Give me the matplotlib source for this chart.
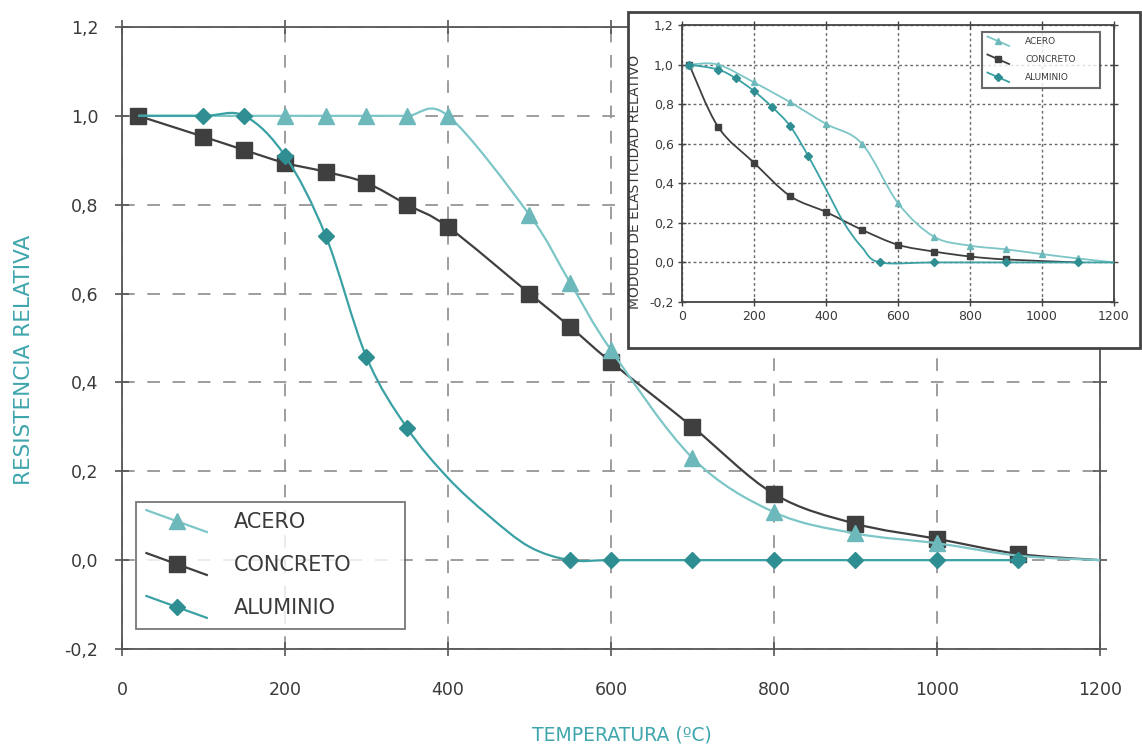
import numpy as np
import matplotlib
matplotlib.use("Agg")
import matplotlib.pyplot as plt
from matplotlib.path import Path
from matplotlib.patches import PathPatch, Rectangle
from matplotlib.lines import Line2D
from matplotlib.legend_handler import HandlerBase

# main chart: relative strength vs temperature
temp_acero = [20, 100, 150, 200, 250, 300, 350, 400, 500, 550, 600, 700, 800, 900, 1000, 1100, 1200]
res_acero = [1.0, 1.0, 1.0, 1.0, 1.0, 1.0, 1.0, 1.0, 0.777, 0.624, 0.473, 0.23, 0.108, 0.06, 0.038, 0.01, 0.0]
acero_sin_marca = [20, 100, 150, 1100, 1200]

temp_concreto = [20, 100, 150, 200, 250, 300, 350, 400, 500, 550, 600, 700, 800, 900, 1000, 1100, 1200]
res_concreto = [1.0, 0.953, 0.923, 0.894, 0.874, 0.849, 0.80, 0.75, 0.60, 0.525, 0.446, 0.30, 0.149, 0.082, 0.048, 0.014, 0.0]
concreto_sin_marca = [1200]

temp_aluminio = [20, 100, 150, 200, 250, 300, 350, 400, 450, 500, 550, 600, 700, 800, 900, 1000, 1100]
res_aluminio = [1.0, 1.0, 1.0, 0.91, 0.73, 0.457, 0.297, 0.185, 0.10, 0.03, 0.0, 0.0, 0.0, 0.0, 0.0, 0.0, 0.0]
aluminio_sin_marca = [20, 400, 450, 500]

# inset: relative elastic modulus
in_temp_acero = [20, 100, 200, 300, 400, 500, 600, 700, 800, 900, 1000, 1100, 1200]
in_mod_acero = [1.0, 1.0, 0.91, 0.81, 0.70, 0.60, 0.30, 0.13, 0.085, 0.066, 0.042, 0.02, 0.0]
in_acero_sin_marca = [1200]

in_temp_concreto = [20, 100, 200, 300, 400, 500, 600, 700, 800, 900, 1100]
in_mod_concreto = [1.0, 0.686, 0.504, 0.336, 0.255, 0.165, 0.089, 0.055, 0.03, 0.015, 0.0]
in_concreto_sin_marca = [1100]

in_temp_aluminio = [20, 100, 150, 200, 250, 300, 350, 400, 450, 500, 550, 700, 900, 1100, 1200]
in_mod_aluminio = [1.0, 0.975, 0.93, 0.866, 0.786, 0.69, 0.54, 0.37, 0.20, 0.076, 0.0, 0.0, 0.0, 0.0, 0.0]
in_aluminio_sin_marca = [400, 450, 500, 1200]

x_ticks = [0, 200, 400, 600, 800, 1000, 1200]
y_ticks = [-0.2, 0.0, 0.2, 0.4, 0.6, 0.8, 1.0, 1.2]
y_tick_labels = ["-0,2", "0,0", "0,2", "0,4", "0,6", "0,8", "1,0", "1,2"]

nombres = ["ACERO", "CONCRETO", "ALUMINIO"]

C_ACERO = "#6cb8ba"
C_ACERO_LINE = "#7cc6c7"
C_CONC = "#3f3f3f"
C_ALU = "#2e8e92"
C_ALU_LINE = "#3aa1a4"
C_TEAL_LABEL = "#3fa6ad"
C_TEXT = "#3a3a3a"


def smooth_path(x, y):
    # smoothed line through the points (bezier, like a spreadsheet "smooth line")
    p = np.column_stack([x, y]).astype(float)
    ext = np.vstack([p[0], p, p[-1]])
    verts = [p[0]]
    codes = [Path.MOVETO]
    for i in range(len(p) - 1):
        c1 = ext[i + 1] + (ext[i + 2] - ext[i]) / 6
        c2 = ext[i + 2] - (ext[i + 3] - ext[i + 1]) / 6
        verts += [c1, c2, ext[i + 2]]
        codes += [Path.CURVE4] * 3
    return Path(verts, codes)


def draw_series(ax, x, y, unmarked, line_color, marker, mcolor, ms, lw, z):
    ax.add_patch(PathPatch(smooth_path(x, y), facecolor="none", edgecolor=line_color,
                           lw=lw, zorder=z))
    x = np.asarray(x)
    y = np.asarray(y)
    keep = ~np.isin(x, unmarked)
    ax.plot(x[keep], y[keep], linestyle="none", marker=marker, ms=ms,
            markerfacecolor=mcolor, markeredgecolor=mcolor, zorder=z + 0.5)
    return Line2D([], [], color=line_color, lw=lw, marker=marker, ms=ms,
                  markerfacecolor=mcolor, markeredgecolor=mcolor)


class SlantHandler(HandlerBase):
    # legend sample drawn as a slanted line with the marker in the middle
    def create_artists(self, legend, orig_handle, xdescent, ydescent, width,
                       height, fontsize, trans):
        x0 = -xdescent
        x1 = x0 + width
        yc = -ydescent + height / 2
        dy = height * 0.75
        line = Line2D([x0, x1], [yc + dy, yc - dy], color=orig_handle.get_color(),
                      lw=orig_handle.get_linewidth())
        mk = Line2D([(x0 + x1) / 2], [yc], linestyle="none",
                    marker=orig_handle.get_marker(), ms=orig_handle.get_markersize(),
                    markerfacecolor=orig_handle.get_markerfacecolor(),
                    markeredgecolor=orig_handle.get_markeredgecolor())
        line.set_transform(trans)
        mk.set_transform(trans)
        return [line, mk]


plt.rcParams["font.family"] = ["DejaVu Sans"]

fig = plt.figure(figsize=(11.42, 7.49), dpi=100)

# ---- main axes ----
ax = fig.add_axes([0.1068, 0.1335, 0.8564, 0.8305])
ax.set_zorder(0)
h_conc = draw_series(ax, temp_concreto, res_concreto, concreto_sin_marca,
                     C_CONC, "s", C_CONC, 11, 1.6, 2)
h_acero = draw_series(ax, temp_acero, res_acero, acero_sin_marca,
                      C_ACERO_LINE, "^", C_ACERO, 11, 1.6, 3)
h_alu = draw_series(ax, temp_aluminio, res_aluminio, aluminio_sin_marca,
                    C_ALU_LINE, "D", C_ALU, 8, 1.6, 4)

ax.set_xlim(0, 1200)
ax.set_ylim(-0.2, 1.2)
ax.set_xticks(x_ticks)
ax.set_yticks(y_ticks)
ax.set_yticklabels(y_tick_labels)
ax.set_axisbelow(True)
ax.grid(True, linestyle=(0, (7, 7)), color="#959595", lw=1.3)
for s in ax.spines.values():
    s.set_color("#555555")
    s.set_linewidth(1.3)
ax.tick_params(direction="inout", length=10, width=1.2, color="#555555",
               labelcolor=C_TEXT, labelsize=12.5, top=True, right=True)
ax.tick_params(axis="x", pad=18)
ax.tick_params(axis="y", pad=12)
ax.set_xlabel("TEMPERATURA (ºC)", color=C_TEAL_LABEL, fontsize=13.5)
ax.set_ylabel("RESISTENCIA RELATIVA", color=C_TEAL_LABEL, fontsize=15.5)
ax.xaxis.set_label_coords(0.511, -0.123)
ax.yaxis.set_label_coords(-0.09, 0.465)

leg = ax.legend([h_acero, h_conc, h_alu], nombres, loc="upper left",
                bbox_to_anchor=(0.1191, 0.1589, 0.2356, 0.1709),
                bbox_transform=fig.transFigure, mode="expand",
                handler_map={Line2D: SlantHandler()}, fontsize=15,
                frameon=True, fancybox=False, handlelength=2.9,
                handletextpad=1.3, labelspacing=1.1, borderpad=0.5,
                borderaxespad=0, labelcolor=C_TEXT)
leg.get_frame().set_edgecolor("#555555")
leg.get_frame().set_linewidth(1.3)
leg.set_zorder(10)

# ---- inset frame ----
frame = Rectangle((0.5499, 0.5354), 0.4483, 0.4486, transform=fig.transFigure,
                  facecolor="white", edgecolor="#444444", lw=2.0, zorder=1)
fig.patches.append(frame)

# ---- inset axes ----
ins = fig.add_axes([0.5972, 0.5968, 0.3783, 0.3698])
ins.set_zorder(2)
i_conc = draw_series(ins, in_temp_concreto, in_mod_concreto, in_concreto_sin_marca,
                     C_CONC, "s", C_CONC, 4.5, 1.3, 2)
i_acero = draw_series(ins, in_temp_acero, in_mod_acero, in_acero_sin_marca,
                      C_ACERO_LINE, "^", C_ACERO, 5, 1.3, 3)
i_alu = draw_series(ins, in_temp_aluminio, in_mod_aluminio, in_aluminio_sin_marca,
                    C_ALU_LINE, "D", C_ALU, 4, 1.3, 4)
ins.set_xlim(0, 1200)
ins.set_ylim(-0.2, 1.2)
ins.set_xticks(x_ticks)
ins.set_yticks(y_ticks)
ins.set_yticklabels(y_tick_labels)
ins.set_axisbelow(True)
ins.grid(True, linestyle=(0, (2, 2)), color="#6a6a6a", lw=1.0)
for s in ins.spines.values():
    s.set_color("#444444")
    s.set_linewidth(1.3)
ins.tick_params(direction="inout", length=6, width=1.0, color="#444444",
                labelcolor=C_TEXT, labelsize=9, top=True, right=True, pad=3)
ins.set_ylabel("MODULO DE ELASTICIDAD RELATIVO", color=C_TEXT, fontsize=10)
ins.yaxis.set_label_coords(-0.092, 0.433)

ileg = ins.legend([i_acero, i_conc, i_alu], nombres, loc="upper left",
                  bbox_to_anchor=(0.8599, 0.8799, 0.1033, 0.0774),
                  bbox_transform=fig.transFigure, mode="expand",
                  handler_map={Line2D: SlantHandler()}, fontsize=6.5,
                  frameon=True, fancybox=False, handlelength=2.4,
                  handletextpad=1.8, labelspacing=1.0, borderpad=0.6,
                  borderaxespad=0, labelcolor=C_TEXT)
ileg.get_frame().set_edgecolor("#444444")
ileg.get_frame().set_linewidth(1.5)

fig.savefig("out.png", dpi=100)
